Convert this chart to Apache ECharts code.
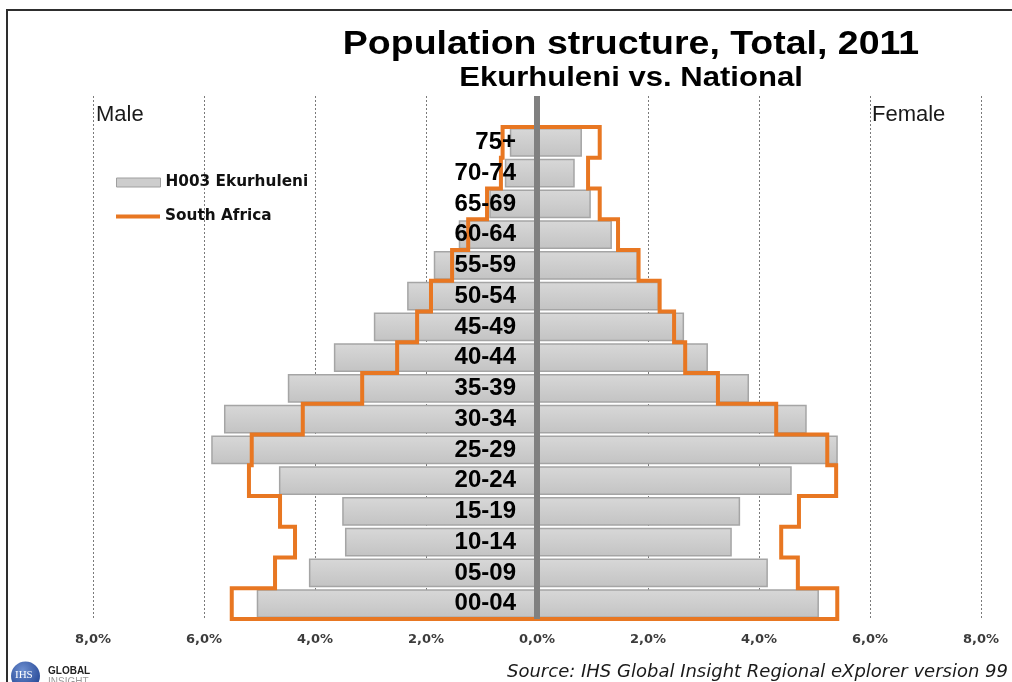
<!DOCTYPE html>
<html>
<head>
<meta charset="utf-8">
<title>Population structure, Total, 2011</title>
<script src="https://cdn.jsdelivr.net/npm/echarts@6/dist/echarts.min.js"></script>
<style>
  html, body { margin: 0; padding: 0; background: #ffffff; }
  #chart { width: 1012px; height: 682px; }
</style>
</head>
<body>
<div id="chart"></div>
<script>
// Age groups, oldest at the top
const categories = ['75+', '70-74', '65-69', '60-64', '55-59', '50-54', '45-49', '40-44',
  '35-39', '30-34', '25-29', '20-24', '15-19', '10-14', '05-09', '00-04'];

// Share of total population, percent (Ekurhuleni)
const maleEkurhuleni = [0.49, 0.58, 0.86, 1.41, 1.86, 2.34, 2.94, 3.66,
  4.49, 5.64, 5.87, 4.65, 3.51, 3.46, 4.11, 5.05];
const femaleEkurhuleni = [0.81, 0.68, 0.97, 1.35, 1.82, 2.20, 2.65, 3.08,
  3.82, 4.86, 5.42, 4.59, 3.66, 3.51, 4.16, 5.08];

// Share of total population, percent (South Africa)
const maleSouthAfrica = [0.62, 0.65, 0.90, 1.24, 1.53, 1.91, 2.16, 2.52,
  3.15, 4.22, 5.14, 5.19, 4.63, 4.36, 4.72, 5.50];
const femaleSouthAfrica = [1.13, 0.92, 1.13, 1.46, 1.83, 2.21, 2.47, 2.67,
  3.26, 4.31, 5.23, 5.39, 4.72, 4.40, 4.70, 5.41];

// Percent axis
const axisMin = -8;
const axisMax = 8;
const axisStep = 2;

const ORANGE = '#E87722';
const PLOT_LEFT = 93;
const PLOT_RIGHT = 31;
const chart = echarts.init(document.getElementById('chart'));

const pctLabel = v => Math.abs(v).toFixed(1).replace('.', ',') + '%';

// Closed step outline around the national profile
function renderOutline(params, api) {
  if (params.dataIndex !== 0) return null;
  const band = api.size([0, 1])[1];
  const pts = [];
  for (let i = 0; i < categories.length; i++) {
    const c = api.coord([-maleSouthAfrica[i], i]);
    pts.push([c[0], c[1] - band / 2], [c[0], c[1] + band / 2]);
  }
  for (let i = categories.length - 1; i >= 0; i--) {
    const c = api.coord([femaleSouthAfrica[i], i]);
    pts.push([c[0], c[1] + band / 2], [c[0], c[1] - band / 2]);
  }
  return {
    type: 'polygon',
    shape: { points: pts },
    style: { fill: 'none', stroke: ORANGE, lineWidth: 4, lineJoin: 'miter' }
  };
}

const barFill = new echarts.graphic.LinearGradient(0, 0, 0, 1, [
  { offset: 0, color: '#d8d8d8' },
  { offset: 1, color: '#c3c3c3' }
]);

// age labels sit just left of the zero line, in the middle of the plot
const plotWidth = 1012 - PLOT_LEFT - PLOT_RIGHT;
const labelAxisOffset = -plotWidth * (0 - axisMin) / (axisMax - axisMin);

const option = {
  backgroundColor: '#ffffff',
  animation: false,
  legend: [
    {
      left: 116, top: 175, padding: 0, orient: 'vertical',
      itemWidth: 44, itemHeight: 9,
      textStyle: { fontFamily: 'DejaVu Sans', fontSize: 15.3, fontWeight: 'bold', color: '#111111' },
      data: [{ name: 'H003 Ekurhuleni', icon: 'rect',
        itemStyle: { color: '#cdcdcd', borderColor: '#9f9f9f', borderWidth: 1 } }]
    },
    {
      left: 116, top: 209, padding: 0, orient: 'vertical',
      itemWidth: 44, itemHeight: 4,
      textStyle: { fontFamily: 'DejaVu Sans', fontSize: 15.3, fontWeight: 'bold', color: '#111111' },
      data: [{ name: 'South Africa', icon: 'rect', itemStyle: { color: ORANGE, borderWidth: 0 } }]
    }
  ],
  grid: [
    { left: PLOT_LEFT, right: PLOT_RIGHT, top: 96, bottom: 63 },
    { left: PLOT_LEFT, right: PLOT_RIGHT, top: 127, bottom: 63 }
  ],
  xAxis: [
    {
      gridIndex: 0, type: 'value', min: axisMin, max: axisMax, interval: axisStep,
      axisLine: { show: false }, axisTick: { show: false },
      splitLine: { show: true, lineStyle: { color: '#7a7a7a', width: 1, type: [2, 2] } },
      axisLabel: {
        formatter: pctLabel, margin: 14,
        fontFamily: 'DejaVu Sans', fontSize: 13, fontWeight: 'bold', color: '#3c3c3c'
      }
    },
    {
      gridIndex: 1, type: 'value', min: axisMin, max: axisMax, interval: axisStep,
      show: false
    }
  ],
  yAxis: [
    {
      // zero line
      gridIndex: 0, type: 'value', min: 0, max: 1, z: 10,
      axisLine: { show: true, onZero: true, lineStyle: { color: '#808080', width: 6, cap: 'butt' } },
      axisTick: { show: false }, axisLabel: { show: false }, splitLine: { show: false }
    },
    {
      gridIndex: 1, type: 'category', data: categories, inverse: true, z: 20,
      position: 'left', offset: labelAxisOffset,
      axisLine: { show: false, onZero: false },
      axisTick: { show: false }, splitLine: { show: false },
      axisLabel: {
        interval: 0, margin: 21,
        fontFamily: 'Liberation Sans', fontSize: 24, fontWeight: 'bold', color: '#000000'
      }
    }
  ],
  series: [
    {
      name: 'H003 Ekurhuleni', type: 'bar', xAxisIndex: 1, yAxisIndex: 1,
      data: maleEkurhuleni.map(v => -v),
      barGap: '-100%', barCategoryGap: '6%',
      itemStyle: { color: barFill, borderColor: '#a5a5a5', borderWidth: 1.5 }
    },
    {
      name: 'H003 Ekurhuleni', type: 'bar', xAxisIndex: 1, yAxisIndex: 1,
      data: femaleEkurhuleni,
      barGap: '-100%', barCategoryGap: '6%',
      itemStyle: { color: barFill, borderColor: '#a5a5a5', borderWidth: 1.5 }
    },
    {
      name: 'South Africa', type: 'custom', xAxisIndex: 1, yAxisIndex: 1, z: 5,
      clip: false,
      itemStyle: { color: ORANGE },
      encode: { x: [0, 1], y: 2 },
      data: categories.map((c, i) => [-maleSouthAfrica[i], femaleSouthAfrica[i], i]),
      renderItem: renderOutline
    }
  ],
  graphic: [
    {
      type: 'rect', z: 30, silent: true,
      shape: { x: 7, y: 10, width: 1020, height: 690 },
      style: { fill: 'none', stroke: '#2e2e2e', lineWidth: 2 }
    },
    {
      // chart heading, set a little wide
      type: 'text', x: 631, y: 45, scaleX: 1.136, silent: true,
      style: { text: 'Population structure, Total, 2011', font: 'bold 33px "Liberation Sans"',
        fill: '#000000', align: 'center', verticalAlign: 'middle' }
    },
    {
      type: 'text', x: 631, y: 78, scaleX: 1.11, silent: true,
      style: { text: 'Ekurhuleni vs. National', font: 'bold 28px "Liberation Sans"',
        fill: '#000000', align: 'center', verticalAlign: 'middle' }
    },
    {
      type: 'text', left: 96, top: 104, silent: true,
      style: { text: 'Male', font: '22px "Liberation Sans"', fill: '#1a1a1a' }
    },
    {
      type: 'text', left: 872, top: 104, silent: true,
      style: { text: 'Female', font: '22px "Liberation Sans"', fill: '#1a1a1a' }
    },
    {
      type: 'text', left: 507, top: 663, silent: true,
      style: { text: 'Source: IHS Global Insight Regional eXplorer version 99',
        font: 'italic 18px "DejaVu Sans"', fill: '#1a1a1a' }
    },
    {
      type: 'circle', silent: true,
      shape: { cx: 25.5, cy: 676, r: 14.5 },
      style: {
        fill: new echarts.graphic.RadialGradient(0.4, 0.3, 0.8, [
          { offset: 0, color: '#6d8fd0' },
          { offset: 1, color: '#1d3f8f' }
        ])
      }
    },
    {
      type: 'text', left: 15, top: 670, silent: true,
      style: { text: 'IHS', font: '11px "Liberation Serif"', fill: '#ffffff' }
    },
    {
      type: 'text', left: 48, top: 666, silent: true,
      style: { text: 'GLOBAL', font: 'bold 10px "Liberation Sans"', fill: '#222222' }
    },
    {
      type: 'text', left: 48, top: 677, silent: true,
      style: { text: 'INSIGHT', font: '10px "Liberation Sans"', fill: '#9a9a9a' }
    }
  ]
};

chart.setOption(option);
</script>
</body>
</html>
